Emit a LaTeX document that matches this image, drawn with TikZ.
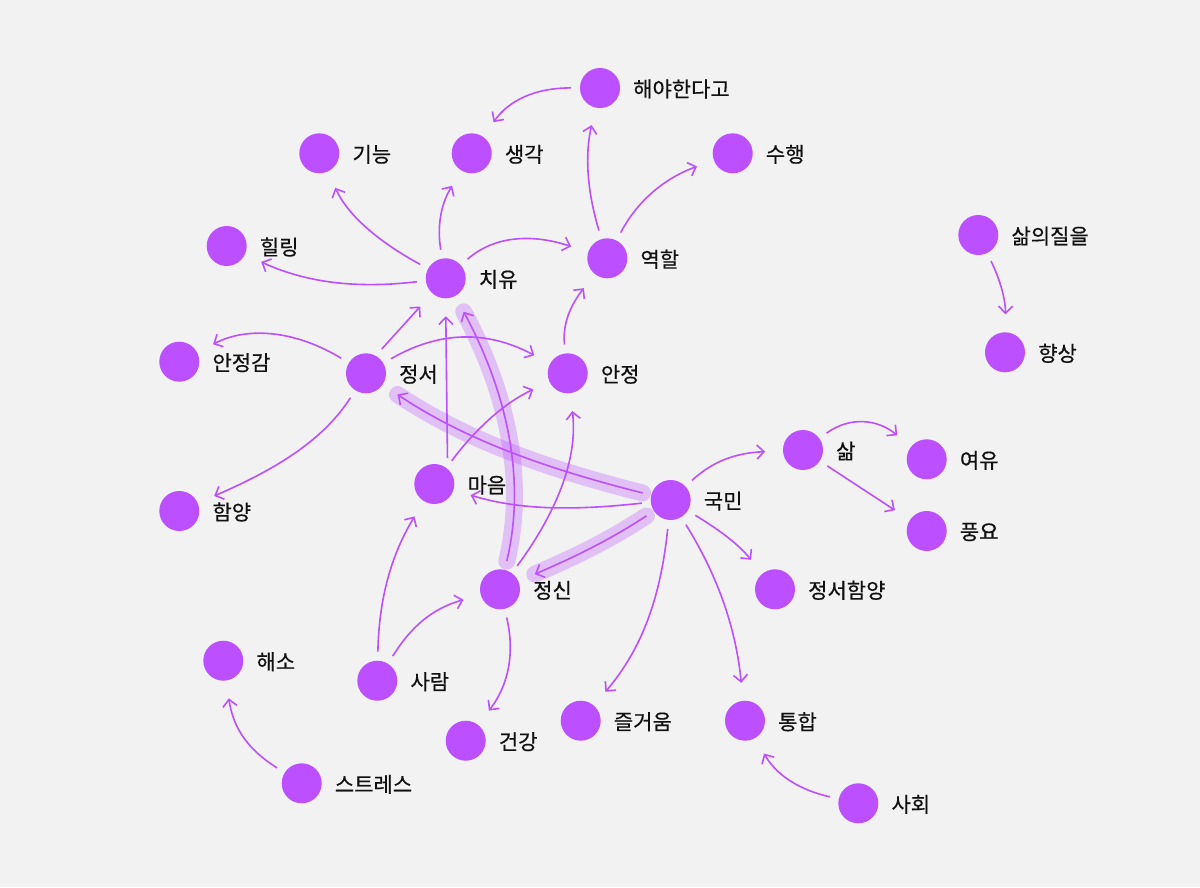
\documentclass[tikz,border=0pt]{standalone}
\usepackage{fontspec}
\newfontfamily\kr[FakeBold=0.5]{Noto Sans CJK KR}
\usetikzlibrary{arrows.meta}
\definecolor{bgc}{HTML}{F2F2F2}
\definecolor{dotc}{HTML}{BC4FFF}
\definecolor{txt}{HTML}{111111}
\pgfdeclarelayer{bgfill}
\pgfdeclarelayer{edges}
\pgfsetlayers{bgfill,edges,main}
\newcommand\mkdot[4]{\node[dot] (#1) at (#2,#3) {}; \node[lbl] (#1-t) at (#2+33,#3+1) {#4};}
\begin{document}
\begin{tikzpicture}[x=1pt,y=-1pt,
 dot/.style={circle,fill=dotc,minimum size=40pt,inner sep=0pt,outer sep=9pt},
 lbl/.style={anchor=west,inner sep=0pt,text=txt,font=\kr\fontsize{21}{25}\selectfont},
 link/.style={draw=dotc,line width=1.6pt,shorten >=9pt,-{Straight Barb[length=7pt,width=14pt]}},
 glow/.style={draw=dotc,draw opacity=0.3,line width=17pt,line cap=round,shorten >=9pt}]
\useasboundingbox (0,0) rectangle (1200,887);
\begin{pgfonlayer}{bgfill}
\fill[bgc] (0,0) rectangle (1200,887);
\end{pgfonlayer}
\mkdot{hae}{600}{88}{해야한다고}
\mkdot{gineung}{319.3}{153.3}{기능}
\mkdot{saenggak}{471.7}{153.3}{생각}
\mkdot{suhaeng}{732.7}{153.3}{수행}
\mkdot{salui}{978.3}{235}{삶의질을}
\mkdot{healing}{226.7}{246}{힐링}
\mkdot{yeokhal}{607.3}{258.3}{역할}
\mkdot{chiyu}{445.7}{278.3}{치유}
\mkdot{hyangsang}{1005}{352.3}{향상}
\mkdot{anjeonggam}{179.3}{361.7}{안정감}
\mkdot{jeongseo}{366}{373.3}{정서}
\mkdot{anjeong}{567.7}{373.3}{안정}
\mkdot{sam}{803}{450}{삶}
\mkdot{yeoyu}{926.7}{459.3}{여유}
\mkdot{maeum}{434.3}{484}{마음}
\mkdot{gukmin}{670.7}{500}{국민}
\mkdot{hamyang}{179.3}{511}{함양}
\mkdot{pungyo}{926.7}{531}{풍요}
\mkdot{jeongsin}{500}{589.3}{정신}
\mkdot{jshy}{775}{589.3}{정서함양}
\mkdot{haeso}{223.3}{660.7}{해소}
\mkdot{saram}{377.3}{680.7}{사람}
\mkdot{jeulgeoum}{580.7}{720.7}{즐거움}
\mkdot{tonghap}{745}{720.7}{통합}
\mkdot{geongang}{465.7}{740.7}{건강}
\mkdot{stress}{301.7}{783.3}{스트레스}
\mkdot{sahoe}{858.3}{803.3}{사회}
\begin{pgfonlayer}{edges}
\draw[glow] (gukmin) .. controls (549.4,469.5) and (466.1,440.6) .. (jeongseo);
\draw[glow] (gukmin) .. controls (607.8,541.1) and (573.9,557.2) .. (jeongsin);
\draw[glow] (jeongsin) .. controls (526.1,480.6) and (507.8,393.9) .. (chiyu);
\draw[link] (hae) .. controls (533.8,87.8) and (508.0,101.4) .. (saenggak);
\draw[link] (yeokhal) .. controls (588.3,195.0) and (584.1,158.4) .. (hae);
\draw[link] (yeokhal) .. controls (635,205.2) and (660,180.0) .. (suhaeng);
\draw[link] (chiyu) .. controls (377.6,241.2) and (347.8,215.0) .. (gineung);
\draw[link] (chiyu) .. controls (437.0,227.8) and (440.4,205.0) .. (saenggak);
\draw[link] (chiyu) .. controls (493.9,236.1) and (531.1,233.3) .. (yeokhal);
\draw[link] (chiyu) .. controls (367.0,287.6) and (313.1,285.9) .. (healing);
\draw[link] (jeongseo.57) -- (chiyu.-132);
\draw[link] (jeongseo) .. controls (297.5,331.7) and (249.4,325.4) .. (anjeonggam);
\draw[link] (jeongseo) .. controls (439.2,330.9) and (487.2,330.0) .. (anjeong);
\draw[link] (jeongseo) .. controls (324.5,438.4) and (279.5,467.8) .. (hamyang);
\draw[link] (maeum.63) -- (chiyu.-90);
\draw[link] (maeum) .. controls (476.9,427.2) and (505.8,402.2) .. (anjeong);
\draw[link] (anjeong) .. controls (562.2,323.6) and (571.1,304.4) .. (yeokhal);
\draw[link] (gukmin) .. controls (549.4,469.5) and (466.1,440.6) .. (jeongseo);
\draw[link] (gukmin) .. controls (577.2,510.2) and (521.6,510.8) .. (maeum);
\draw[link] (gukmin) .. controls (607.8,541.1) and (573.9,557.2) .. (jeongsin);
\draw[link] (jeongsin) .. controls (526.1,480.6) and (507.8,393.9) .. (chiyu);
\draw[link] (jeongsin) .. controls (559.5,508.4) and (577.8,455.6) .. (anjeong);
\draw[link] (gukmin) .. controls (711.3,462.6) and (733.6,453.0) .. (sam);
\draw[link] (sam) .. controls (849.7,416.5) and (876.9,418.7) .. (yeoyu);
\draw[link] (sam) -- (pungyo);
\draw[link] (gukmin) .. controls (715.2,527.6) and (736.3,541.7) .. (jshy);
\draw[link] (gukmin) .. controls (660.6,597.6) and (642,648.9) .. (jeulgeoum);
\draw[link] (gukmin) .. controls (715.0,571.7) and (735.4,623.3) .. (tonghap);
\draw[link] (jeongsin) .. controls (515.5,655) and (507.4,686.7) .. (geongang);
\draw[link] (saram) .. controls (378.8,605.7) and (388.2,559.8) .. (maeum);
\draw[link] (saram) .. controls (411.3,626.5) and (432,608.7) .. (jeongsin);
\draw[link] (stress) .. controls (247.7,749.5) and (233.1,727.8) .. (haeso);
\draw[link] (sahoe) .. controls (798.9,789.8) and (776.4,775.0) .. (tonghap);
\draw[link] (salui) .. controls (1001.1,281.7) and (1005.6,301.2) .. (hyangsang);
\end{pgfonlayer}
\end{tikzpicture}
\end{document}
